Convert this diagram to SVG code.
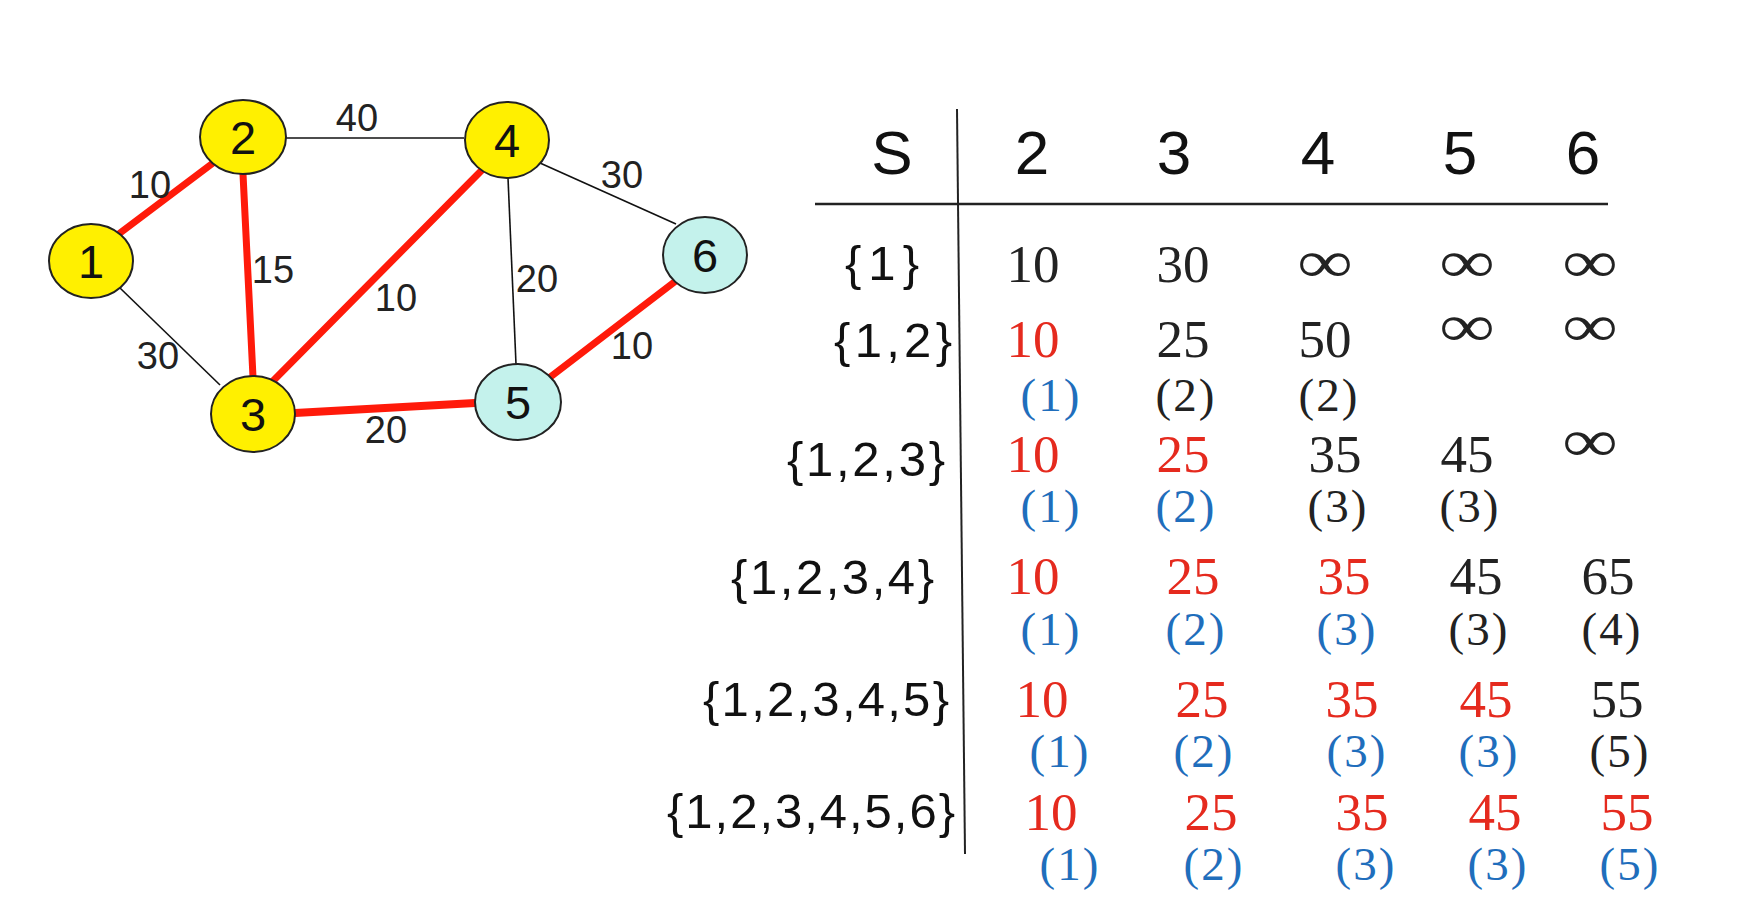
<svg xmlns="http://www.w3.org/2000/svg" width="1744" height="920" viewBox="0 0 1744 920">
<style>
.bg{fill:#ffffff}
.ny{fill:#FFF000;stroke:#222;stroke-width:2}
.nc{fill:#C4F2EC;stroke:#222;stroke-width:2}
.nl{font-family:"Liberation Sans",Arial,sans-serif;font-size:47px;fill:#111;text-anchor:middle}
.e{stroke:#111;stroke-width:1.6;fill:none}
.r{stroke:#FF1A0A;stroke-width:7;fill:none;stroke-linecap:round}
.el{font-family:"Liberation Sans",Arial,sans-serif;font-size:38px;fill:#222;text-anchor:middle}
.hd{font-family:"Liberation Sans",Arial,sans-serif;font-size:62px;fill:#111;text-anchor:middle}
.rl{font-family:"Liberation Sans",Arial,sans-serif;font-size:49px;fill:#111;text-anchor:end}
.v{font-family:"Liberation Serif","Times New Roman",serif;font-size:53px;fill:#222;text-anchor:middle}
.p{font-family:"Liberation Serif","Times New Roman",serif;font-size:47px;fill:#222;text-anchor:middle;letter-spacing:2px}
.inf{font-family:"Liberation Serif","Times New Roman",serif;font-size:60px;fill:#222;text-anchor:middle}
.red{fill:#E52A1E}
.blue{fill:#1F6EBC}
.tl{stroke:#222;stroke-width:2}
</style>
<rect class="bg" x="0" y="0" width="1744" height="920"/>

<g id="connectors">
  <line class="e" x1="286" y1="138" x2="464" y2="138"/>
  <line class="e" x1="120" y1="288" x2="220" y2="385"/>
  <line class="e" x1="508" y1="178" x2="516" y2="364"/>
  <line class="e" x1="540" y1="163" x2="676" y2="224"/>
  <line class="r" x1="120" y1="233" x2="213" y2="163"/>
  <line class="r" x1="243" y1="174" x2="253" y2="377"/>
  <line class="r" x1="272" y1="382" x2="481" y2="171"/>
  <line class="r" x1="295" y1="413" x2="475" y2="403" style="stroke-width:8"/>
  <line class="r" x1="549" y1="378" x2="677" y2="280"/>
  <text class="el" x="357" y="131">40</text>
  <text class="el" x="150" y="198">10</text>
  <text class="el" x="273" y="283">15</text>
  <text class="el" x="396" y="311">10</text>
  <text class="el" x="537" y="292">20</text>
  <text class="el" x="622" y="188">30</text>
  <text class="el" x="158" y="369">30</text>
  <text class="el" x="386" y="443">20</text>
  <text class="el" x="632" y="359">10</text>
</g>

<g id="node1"><ellipse class="ny" cx="91" cy="261" rx="42" ry="37"/><text class="nl" x="91" y="278">1</text></g>
<g id="node2"><ellipse class="ny" cx="243" cy="137" rx="43" ry="37"/><text class="nl" x="243" y="154">2</text></g>
<g id="node3"><ellipse class="ny" cx="253" cy="414" rx="42" ry="38"/><text class="nl" x="253" y="431">3</text></g>
<g id="node4"><ellipse class="ny" cx="507" cy="140" rx="42" ry="38"/><text class="nl" x="507" y="157">4</text></g>
<g id="node5"><ellipse class="nc" cx="518" cy="402" rx="43" ry="38"/><text class="nl" x="518" y="419">5</text></g>
<g id="node6"><ellipse class="nc" cx="705" cy="255" rx="42" ry="38"/><text class="nl" x="705" y="272">6</text></g>

<g id="table">
  <line class="tl" x1="957" y1="109" x2="965" y2="854"/>
  <line class="tl" x1="815" y1="204" x2="1608" y2="204" style="stroke-width:2.4"/>
  <text class="hd" x="892" y="174">S</text>
  <text class="hd" x="1032" y="174">2</text>
  <text class="hd" x="1174" y="174">3</text>
  <text class="hd" x="1318" y="174">4</text>
  <text class="hd" x="1460" y="174">5</text>
  <text class="hd" x="1583" y="174">6</text>

  <text class="rl" x="919" y="280" textLength="74" lengthAdjust="spacing">{1}</text>
  <text class="rl" x="952" y="357" textLength="118" lengthAdjust="spacing">{1,2}</text>
  <text class="rl" x="945" y="476" textLength="158" lengthAdjust="spacing">{1,2,3}</text>
  <text class="rl" x="934" y="594" textLength="203" lengthAdjust="spacing">{1,2,3,4}</text>
  <text class="rl" x="949" y="716" textLength="246" lengthAdjust="spacing">{1,2,3,4,5}</text>
  <text class="rl" x="955" y="828" textLength="288" lengthAdjust="spacing">{1,2,3,4,5,6}</text>

  <!-- row 1 -->
  <text class="v" x="1033" y="282">10</text>
  <text class="v" x="1183" y="282">30</text>
  <text class="inf" transform="translate(1325 282) scale(1.3 1)">∞</text>
  <text class="inf" transform="translate(1467 282) scale(1.3 1)">∞</text>
  <text class="inf" transform="translate(1590 282) scale(1.3 1)">∞</text>
  <!-- row 2 -->
  <text class="v red" x="1033" y="357">10</text>
  <text class="v" x="1183" y="357">25</text>
  <text class="v" x="1325" y="357">50</text>
  <text class="inf" transform="translate(1467 346) scale(1.3 1)">∞</text>
  <text class="inf" transform="translate(1590 346) scale(1.3 1)">∞</text>
  <text class="p blue" x="1051" y="411">(1)</text>
  <text class="p" x="1186" y="411">(2)</text>
  <text class="p" x="1329" y="411">(2)</text>
  <!-- row 3 -->
  <text class="v red" x="1033" y="472">10</text>
  <text class="v red" x="1183" y="472">25</text>
  <text class="v" x="1335" y="472">35</text>
  <text class="v" x="1467" y="472">45</text>
  <text class="inf" transform="translate(1590 461) scale(1.3 1)">∞</text>
  <text class="p blue" x="1051" y="522">(1)</text>
  <text class="p blue" x="1186" y="522">(2)</text>
  <text class="p" x="1338" y="522">(3)</text>
  <text class="p" x="1470" y="522">(3)</text>
  <!-- row 4 -->
  <text class="v red" x="1033" y="594">10</text>
  <text class="v red" x="1193" y="594">25</text>
  <text class="v red" x="1344" y="594">35</text>
  <text class="v" x="1476" y="594">45</text>
  <text class="v" x="1608" y="594">65</text>
  <text class="p blue" x="1051" y="645">(1)</text>
  <text class="p blue" x="1196" y="645">(2)</text>
  <text class="p blue" x="1347" y="645">(3)</text>
  <text class="p" x="1479" y="645">(3)</text>
  <text class="p" x="1612" y="645">(4)</text>
  <!-- row 5 -->
  <text class="v red" x="1042" y="717">10</text>
  <text class="v red" x="1202" y="717">25</text>
  <text class="v red" x="1352" y="717">35</text>
  <text class="v red" x="1486" y="717">45</text>
  <text class="v" x="1617" y="717">55</text>
  <text class="p blue" x="1060" y="767">(1)</text>
  <text class="p blue" x="1204" y="767">(2)</text>
  <text class="p blue" x="1357" y="767">(3)</text>
  <text class="p blue" x="1489" y="767">(3)</text>
  <text class="p" x="1620" y="767">(5)</text>
  <!-- row 6 -->
  <text class="v red" x="1051" y="830">10</text>
  <text class="v red" x="1211" y="830">25</text>
  <text class="v red" x="1362" y="830">35</text>
  <text class="v red" x="1495" y="830">45</text>
  <text class="v red" x="1627" y="830">55</text>
  <text class="p blue" x="1070" y="880">(1)</text>
  <text class="p blue" x="1214" y="880">(2)</text>
  <text class="p blue" x="1366" y="880">(3)</text>
  <text class="p blue" x="1498" y="880">(3)</text>
  <text class="p blue" x="1630" y="880">(5)</text>
</g>
</svg>
